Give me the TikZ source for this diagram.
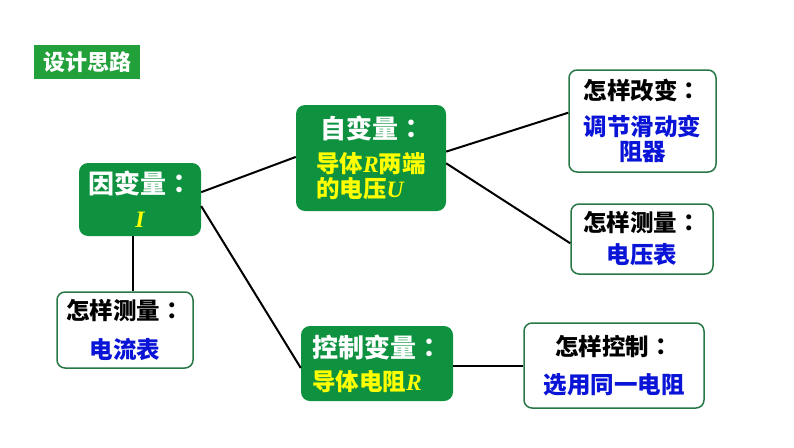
\documentclass[tikz,border=0pt]{standalone}
\usepackage{fontspec}
\setmainfont{Noto Sans CJK SC}
\newfontfamily\tcfont{Noto Sans CJK TC}
\newfontfamily\latser{Liberation Serif}
\usetikzlibrary{calc}
\definecolor{gfill}{RGB}{14,146,64}
\definecolor{tfill}{RGB}{34,160,58}
\definecolor{gline}{RGB}{40,120,70}
\definecolor{tblue}{RGB}{10,20,215}
\definecolor{tyel}{RGB}{255,255,0}
\newcommand{\vi}[1]{{\latser\bfseries\itshape #1}}
\newcommand{\cln}{{\tcfont\bfseries ：}}
\newcommand{\hdr}[1]{{\fontsize{26}{25}\selectfont #1}}
\tikzset{
  gbox/.style={fill=gfill, rounded corners=9pt, inner sep=0pt, text=white,
    font=\bfseries\fontsize{23.5}{25}\selectfont},
  wbox/.style={draw=gline, line width=1.5pt, fill=white, rounded corners=8pt, inner sep=0pt,
    font=\bfseries\fontsize{23.5}{25}\selectfont},
  link/.style={line width=2pt, black}
}
\begin{document}
\begin{tikzpicture}[x=1pt,y=-1pt]
\useasboundingbox (0,0) rectangle (794,447);
% title
\node[fill=tfill, text=white, font=\bfseries\fontsize{22}{22}\selectfont,
  minimum width=106pt, minimum height=34pt, inner sep=0pt] (title) at (87,62) {设计思路};
% dependent variable
\node[gbox, minimum width=122pt, minimum height=73pt, align=center] (yin) at (140,199.5)
  {\hdr{因变量\cln}\\[9pt]\textcolor{tyel}{\vi{I}}};
% independent variable
\node[gbox, minimum width=150pt, minimum height=106pt, align=left] (zi) at (371,158)
  {\hdr{\,自变量\cln}\\[9pt]\textcolor{tyel}{导体\vi{R}两端}\\\textcolor{tyel}{的电压\vi{U}}};
% how to change
\node[wbox, minimum width=147pt, minimum height=102pt, align=center] (gb) at (642.5,121)
  {怎样改变\cln\\[11pt]\textcolor{tblue}{调节滑动变}\\\textcolor{tblue}{阻器}};
% how to measure (voltage)
\node[wbox, minimum width=142pt, minimum height=70pt, align=center] (cl1) at (642,239)
  {怎样测量\cln\\[7pt]\textcolor{tblue}{电压表}};
% controlled variable
\node[gbox, minimum width=152pt, minimum height=75pt, align=left] (kz) at (377,363.5)
  {\hdr{控制变量\cln}\\[8pt]\textcolor{tyel}{导体电阻\vi{R}}};
% how to control
\node[wbox, minimum width=180pt, minimum height=85pt, align=center] (kzff) at (614,365.5)
  {怎样控制\cln\\[13pt]\textcolor{tblue}{选用同一电阻}};
% how to measure (current)
\node[wbox, minimum width=136pt, minimum height=76pt, align=center] (cl2) at (125,330)
  {怎样测量\cln\\[14pt]\textcolor{tblue}{电流表}};
% connectors
\draw[link] ($(yin.north east)!0.40!(yin.south east)$) -- ($(zi.north west)!0.49!(zi.south west)$);
\draw[link] ($(yin.north east)!0.59!(yin.south east)$) -- ($(kz.north west)!0.56!(kz.south west)$);
\coordinate (ydown) at ($(yin.south west)!0.445!(yin.south east)$);
\draw[link] (ydown) -- (ydown |- cl2.north);
\draw[link] ($(zi.north east)!0.44!(zi.south east)$) -- ($(gb.north west)!0.42!(gb.south west)$);
\draw[link] ($(zi.north east)!0.55!(zi.south east)$) -- ($(cl1.north west)!0.56!(cl1.south west)$);
\draw[link] (kzff.west -| kz.east) -- (kzff.west);
\end{tikzpicture}
\end{document}
